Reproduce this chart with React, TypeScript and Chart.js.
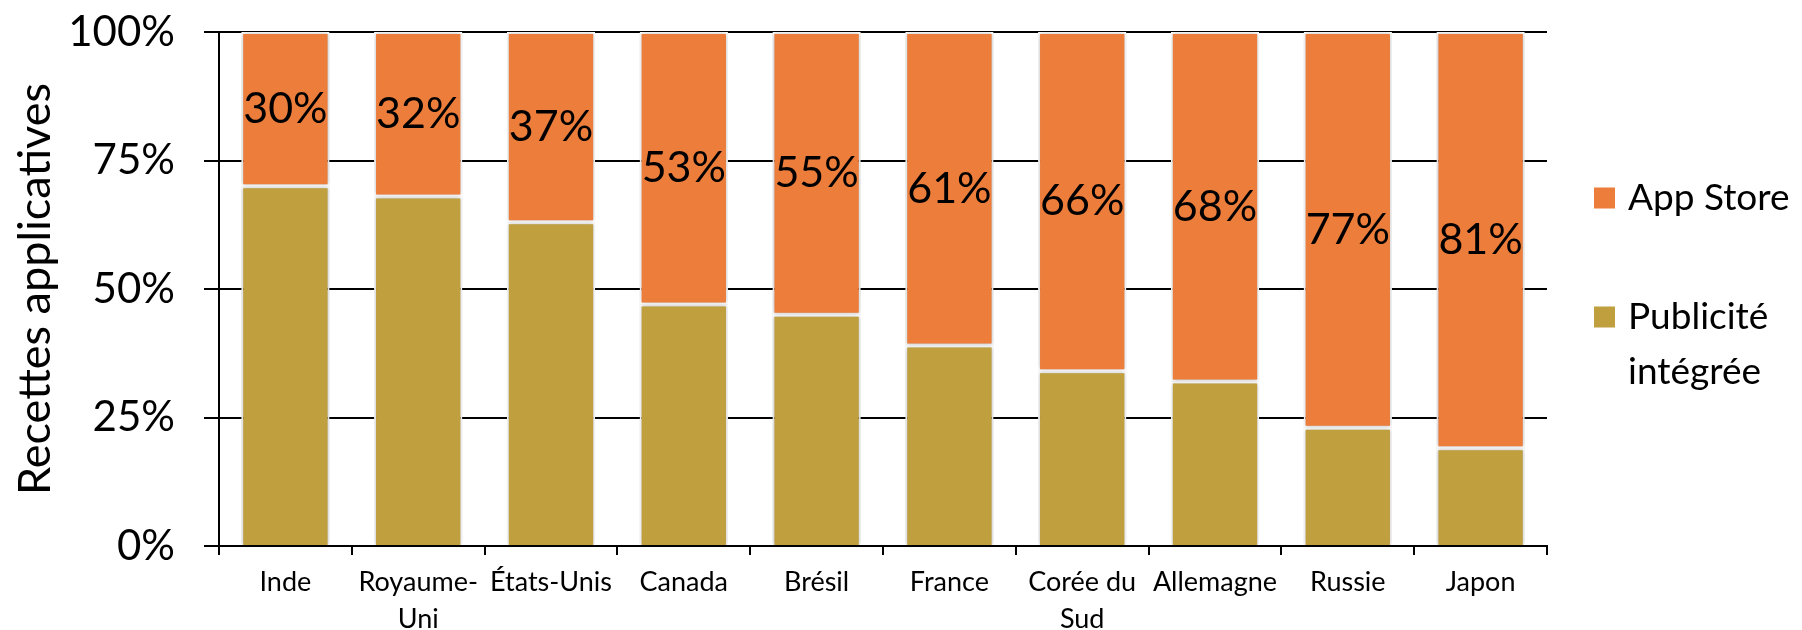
import React, { useEffect, useRef } from "react";
import { Chart, registerables } from "chart.js";

Chart.register(...registerables);

const categories: (string | string[])[] = [
  "Inde",
  ["Royaume-", "Uni"],
  "États-Unis",
  "Canada",
  "Brésil",
  "France",
  ["Corée du", "Sud"],
  "Allemagne",
  "Russie",
  "Japon",
];
const appStore = [30, 32, 37, 53, 55, 61, 66, 68, 77, 81];
const publicite = [70, 68, 63, 47, 45, 39, 34, 32, 23, 19];
const yTicks = [0, 25, 50, 75, 100];
const seriesNames = ["Publicité intégrée", "App Store"];
const legendLines: string[][] = [["App Store"], ["Publicité", "intégrée"]];

const ORANGE = "#ED7D3A";
const GOLD = "#BF9F3E";
const FONT = "Lato";

const shadowPlugin = {
  id: "barShadow",
  beforeDatasetsDraw(chart: any) {
    const ctx = chart.ctx;
    ctx.save();
    ctx.shadowColor = "rgba(0,0,0,0.28)";
    ctx.shadowBlur = 4;
    ctx.shadowOffsetX = 0;
    ctx.shadowOffsetY = 0;
  },
  afterDatasetsDraw(chart: any) {
    chart.ctx.restore();
  },
};

const dataLabelPlugin = {
  id: "dataLabels",
  afterDatasetsDraw(chart: any) {
    const ctx = chart.ctx;
    const meta = chart.getDatasetMeta(1);
    ctx.save();
    ctx.shadowColor = "transparent";
    ctx.font = `43px ${FONT}`;
    ctx.fillStyle = "#000";
    ctx.textAlign = "center";
    ctx.textBaseline = "middle";
    meta.data.forEach((bar: any, i: number) => {
      const y = (bar.y + bar.base) / 2;
      ctx.fillText(`${chart.data.datasets[1].data[i]}%`, bar.x, y);
    });
    ctx.restore();
  },
};

const legendPlugin = {
  id: "customLegend",
  afterDraw(chart: any) {
    const ctx = chart.ctx;
    const area = chart.chartArea;
    const boxX = area.right + 47;
    const textX = area.right + 81;
    const items = [
      { color: ORANGE, lines: legendLines[0], y: 190 },
      { color: GOLD, lines: legendLines[1], y: 309 },
    ];
    ctx.save();
    ctx.font = `37px ${FONT}`;
    ctx.textAlign = "left";
    ctx.textBaseline = "middle";
    items.forEach((it) => {
      ctx.fillStyle = it.color;
      ctx.fillRect(boxX, it.y - 10.5, 21, 21);
      ctx.fillStyle = "#000";
      it.lines.forEach((line, j) => {
        ctx.fillText(line, textX, it.y + j * 55);
      });
    });
    ctx.restore();
  },
};

export default function App() {
  const ref = useRef<HTMLCanvasElement | null>(null);
  useEffect(() => {
    if (!ref.current) return;
    const chart = new Chart(ref.current, {
      type: "bar",
      data: {
        labels: categories as any,
        datasets: [
          {
            label: seriesNames[0],
            data: publicite,
            backgroundColor: GOLD,
            borderColor: "#ffffff",
            borderWidth: 2,
            borderSkipped: "start",
          },
          {
            label: seriesNames[1],
            data: appStore,
            backgroundColor: ORANGE,
            borderColor: "#ffffff",
            borderWidth: 2,
            borderSkipped: false,
          },
        ],
      },
      options: {
        animation: false,
        responsive: false,
        maintainAspectRatio: false,
        layout: { padding: { left: 0, right: 247, top: 24, bottom: 0 } },
        datasets: { bar: { categoryPercentage: 1, barPercentage: 0.665 } },
        plugins: {
          legend: { display: false },
          tooltip: { enabled: false },
        },
        scales: {
          x: {
            stacked: true,
            offset: true,
            grid: {
              display: true,
              drawOnChartArea: false,
              drawTicks: true,
              tickLength: 9,
              color: "#000",
              lineWidth: 2,
              offset: true,
            },
            border: { display: true, color: "#000", width: 2 },
            ticks: {
              color: "#000",
              font: { family: FONT, size: 27, lineHeight: 1.4 },
              maxRotation: 0,
              autoSkip: false,
              padding: 8,
            },
            afterFit(scale: any) {
              scale.height = 84;
              scale.paddingLeft = 0;
              scale.paddingRight = 0;
            },
          },
          y: {
            stacked: true,
            min: 0,
            max: 100,
            afterBuildTicks(scale: any) {
              scale.ticks = yTicks.map((v) => ({ value: v }));
            },
            grid: {
              color: "#000",
              lineWidth: 2,
              tickLength: 15,
              drawTicks: true,
            },
            border: { display: true, color: "#000", width: 2 },
            ticks: {
              color: "#000",
              font: { family: FONT, size: 42 },
              padding: 29,
              callback: (v: any) => `${v}%`,
            },
            title: {
              display: true,
              text: "Recettes applicatives",
              color: "#000",
              font: { family: FONT, size: 45, weight: "normal" },
              padding: { top: 0, bottom: 0 },
            },
            afterFit(scale: any) {
              scale.width = 211;
              scale.paddingTop = 0;
              scale.paddingBottom = 0;
            },
          },
        },
      },
      plugins: [shadowPlugin, dataLabelPlugin, legendPlugin],
    });
    return () => chart.destroy();
  }, []);
  return (
    <div style={{ width: 1786, height: 622 }}>
      <canvas ref={ref} width={1786} height={622} style={{ display: "block" }} />
    </div>
  );
}
